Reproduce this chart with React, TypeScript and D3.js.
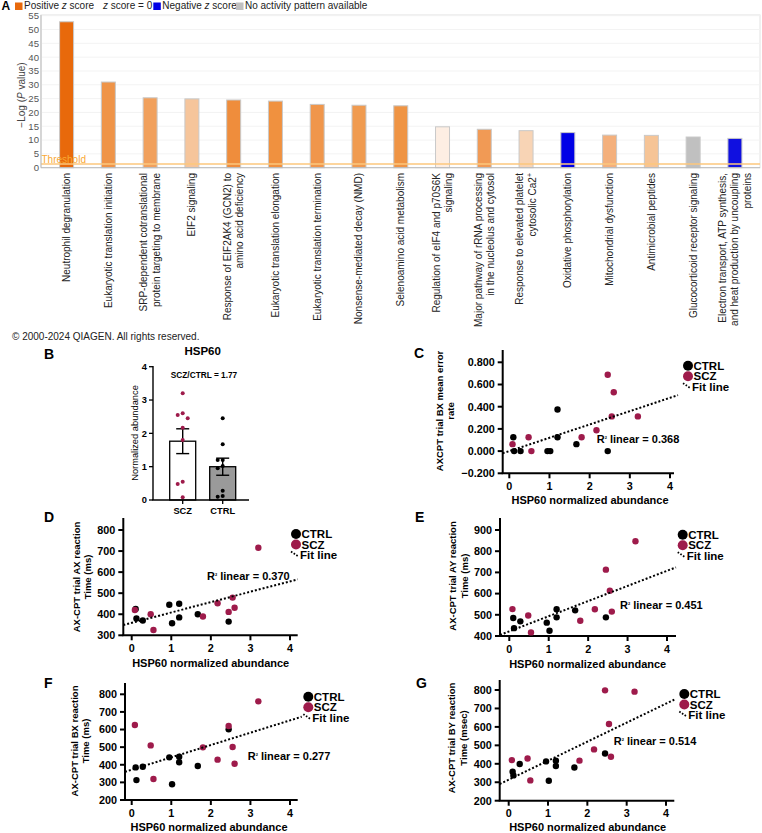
import React from 'react';
import * as d3 from 'd3';

const FONT = 'Liberation Sans, Arial, Helvetica, sans-serif';

// ---------- panel A: canonical pathways ----------
const pathways = [
  'Neutrophil degranulation',
  'Eukaryotic translation initiation',
  'SRP-dependent cotranslational|protein targeting to membrane',
  'EIF2 signaling',
  'Response of EIF2AK4 (GCN2) to|amino acid deficiency',
  'Eukaryotic translation elongation',
  'Eukaryotic translation termination',
  'Nonsense-mediated decay (NMD)',
  'Selenoamino acid metabolism',
  'Regulation of eIF4 and p70S6K|signaling',
  'Major pathway of rRNA processing|in the nucleolus and cytosol',
  'Response to elevated platelet|cytosolic Ca2^+',
  'Oxidative phosphorylation',
  'Mitochondrial dysfunction',
  'Antimicrobial peptides',
  'Glucocorticoid receptor signaling',
  'Electron transport, ATP synthesis,|and heat production by uncoupling|proteins',
];
const pathwayLogP = [52.8, 31.0, 25.3, 24.9, 24.5, 24.1, 22.9, 22.6, 22.4, 14.8, 13.9, 13.4, 12.7, 11.8, 11.7, 11.1, 10.6];
const pathwayColors = [
  '#e8690b', '#ef9448', '#f1a05c', '#f6c59b', '#ef8d3c', '#f0913f', '#f0964b', '#f09b50', '#ef9444',
  '#fdeee3', '#f19a55', '#f8d4b5', '#0000e6', '#f4b07c', '#f6c496', '#c0c0c0', '#1010e0',
];
const yTicksA = [0, 5, 10, 15, 20, 25, 30, 35, 40, 45, 50, 55];
const thresholdA = 1.3;
const legendLabelsA = ['Positive _z_ score', '_z_ score = 0', 'Negative _z_ score', 'No activity pattern available'];
const legendColorsA = ['#e8690b', '#ffffff', '#0000e6', '#c0c0c0'];

// ---------- panel B + scatter panels ----------
const groups = ['SCZ', 'CTRL'];
const hspScz = [0.08, 0.48, 0.55, 1.8, 2.17, 2.45, 2.55, 2.6, 3.2];
const hspCtrl = [0.1, 0.12, 0.28, 0.95, 1.02, 1.2, 1.2, 1.67, 2.45];

const bxErrorScz = [0.0625, 0.125, 0, 0.125, 0.1875, 0.6875, 0.3125, 0.53, 0.3125];
const bxErrorCtrl = [0.125, 0, 0, 0, 0, 0.375, 0.125, 0.0625, 0];
const axRtScz = [420, 400, 325, 389, 452, 411, 479, 431, 716];
const axRtCtrl = [425, 380, 370, 445, 357, 450, 385, 400, 365];
const ayRtScz = [527, 497, 417, 472, 526, 713, 614, 515, 847];
const ayRtCtrl = [485, 437, 469, 463, 425, 526, 488, 521, 488];
const bxRtScz = [626, 510, 319, 499, 429, 620, 501, 406, 760];
const bxRtCtrl = [385, 313, 389, 442, 289, 446, 414, 393, 601];
const byRtScz = [420, 429, 310, 417, 478, 798, 616, 438, 791];
const byRtCtrl = [357, 337, 399, 413, 308, 417, 388, 380, 456];

const fitIntercepts = [0, 359, 422, 372, 314];
const fitSlopes = [0.12, 49.3, 71.4, 70, 103];
const rSquared = ['0.368', '0.370', '0.451', '0.277', '0.514'];
const yLabels = [
  ['AXCPT trial BX mean error', 'rate'],
  ['AX-CPT trial AX reaction', 'Time (ms)'],
  ['AX-CPT trial AY reaction', 'Time (ms)'],
  ['AX-CPT trial BX reaction', 'Time (ms)'],
  ['AX-CPT trial BY reaction', 'Time (msec)'],
];
const yTicksList = [
  [-0.2, 0, 0.2, 0.4, 0.6, 0.8],
  [300, 400, 500, 600, 700, 800],
  [400, 500, 600, 700, 800, 900],
  [200, 300, 400, 500, 600, 700, 800],
  [200, 300, 400, 500, 600, 700, 800],
];
const xTicks = [0, 1, 2, 3, 4];
const legendNames = ['CTRL', 'SCZ', 'Fit line'];

const MAROON = '#9e1b4b';

// positions of the scatter panels on the page
const layouts = [
  { letter: 'C', lx: 414, ly: 358, xr: [509.3, 670], yr: [473.3, 362.3], axL: 502.7, axR: 674, axT: 350, fitEnd: 678, leg: [688, 365.7], ylab: [444.5, 411], xlab: [590, 504], rt: [596.7, 443] },
  { letter: 'D', lx: 44, ly: 522, xr: [131.7, 290], yr: [635.3, 530], axL: 123.3, axR: 297.7, axT: 518, fitEnd: 297.7, leg: [296, 534], ylab: [81.5, 577], xlab: [210.7, 667], rt: [207, 580] },
  { letter: 'E', lx: 415, ly: 522, xr: [509.3, 667], yr: [636, 530], axL: 500, axR: 676, axT: 518, fitEnd: 676, leg: [682.7, 534.7], ylab: [458, 576], xlab: [587.7, 668], rt: [620, 608.7] },
  { letter: 'F', lx: 44, ly: 688, xr: [131.7, 290], yr: [800, 694.3], axL: 125, axR: 297.7, axT: 683, fitEnd: 301.7, leg: [308.3, 696.7], ylab: [79.5, 741], xlab: [209, 831], rt: [247.7, 760] },
  { letter: 'G', lx: 416, ly: 688, xr: [508.7, 666], yr: [800.7, 690], axL: 499.7, axR: 674.3, axT: 680, fitEnd: 674.3, leg: [684.3, 694], ylab: [457, 738], xlab: [587.7, 830.7], rt: [613.7, 744.7] },
];
const scatterY = [
  [bxErrorCtrl, bxErrorScz],
  [axRtCtrl, axRtScz],
  [ayRtCtrl, ayRtScz],
  [bxRtCtrl, bxRtScz],
  [byRtCtrl, byRtScz],
];

function ItalicZ({ text }: { text: string }) {
  return (
    <>
      {text.split('_').map((p, i) => (
        <tspan key={i} fontStyle={i % 2 ? 'italic' : 'normal'}>{p}</tspan>
      ))}
    </>
  );
}

function PanelA() {
  const x = d3.scaleBand<string>().domain(pathways).range([41, 760.5]).paddingInner(0.665).paddingOuter(0.445);
  const y = d3.scaleLinear().domain([0, 55]).range([167.7, 15.7]);
  const swX = [15, 94, 153.3, 236];
  return (
    <g fontFamily={FONT}>
      <text x={1.5} y={10.2} fontSize={12} fontWeight="bold">A</text>
      {legendLabelsA.map((l, i) => (
        <g key={i}>
          <rect x={swX[i]} y={2.5} width={7.5} height={7.5} fill={legendColorsA[i]} />
          <text x={swX[i] + 9} y={9.3} fontSize={10} fill="#222"><ItalicZ text={l} /></text>
        </g>
      ))}
      <rect x={41} y={15} width={719} height={152.7} fill="none" stroke="#e2e2e2" />
      {yTicksA.map(t => (
        <g key={t}>
          {t > 0 && <line x1={41} x2={760} y1={y(t)} y2={y(t)} stroke="#f3f3f3" />}
          <text x={39} y={y(t) + 3.4} fontSize={9.6} textAnchor="end" fill="#555">{t}</text>
        </g>
      ))}
      <text transform="translate(25,95) rotate(-90)" fontSize={10} textAnchor="middle" fill="#444">
        −Log (<tspan fontStyle="italic">P</tspan> value)
      </text>
      {pathways.map((p, i) => (
        <rect key={p} x={x(p)} y={y(pathwayLogP[i])} width={x.bandwidth()} height={y(0) - y(pathwayLogP[i])}
          fill={pathwayColors[i]} stroke="#c9c9c9" strokeWidth={1} />
      ))}
      <line x1={41} x2={760} y1={y(thresholdA)} y2={y(thresholdA)} stroke="#fcc77c" strokeWidth={1.5} />
      <text x={41.5} y={163} fontSize={10} fill="#f9a934">Threshold</text>
      <line x1={41} x2={41} y1={15} y2={167.7} stroke="#bbb" />
      <line x1={41} x2={760} y1={167.7} y2={167.7} stroke="#bbb" />
      {pathways.map((p, i) => {
        const lines = p.split('|');
        const cx = (x(p) as number) + x.bandwidth() / 2;
        return lines.map((ln, j) => {
          const off = (j - (lines.length - 1) / 2) * 12.5;
          const parts = ln.split('^');
          return (
            <text key={i + '-' + j} transform={`translate(${cx + off + 3.5},173) rotate(-90)`} fontSize={10}
              textAnchor="end" fill="#222">
              {parts[0]}
              {parts[1] && <tspan fontSize={7} dy={-4}>{parts[1]}</tspan>}
            </text>
          );
        });
      })}
      <text x={12} y={340} fontSize={10} fill="#222">© 2000-2024 QIAGEN. All rights reserved.</text>
    </g>
  );
}

function jitter(vals: number[]) {
  const order = vals.map((v, i) => i).sort((a, b) => vals[b] - vals[a]);
  const offs = new Array(vals.length).fill(0);
  const placed: number[] = [];
  order.forEach(i => {
    const near = placed.filter(j => Math.abs(vals[j] - vals[i]) < 0.15).map(j => offs[j]);
    offs[i] = [0, -5, 5, -9, 9].find(o => !near.includes(o)) ?? 0;
    placed.push(i);
  });
  return offs;
}

function PanelB() {
  const x = d3.scaleBand<string>().domain(groups).range([162.7, 242.7]);
  const y = d3.scaleLinear().domain([0, 4]).range([500, 366.7]);
  const sets = [hspScz, hspCtrl];
  const bw = 26;
  return (
    <g fontFamily={FONT}>
      <text x={44} y={359} fontSize={14} fontWeight="bold">B</text>
      <text x={202.7} y={354.5} fontSize={11.5} fontWeight="bold" textAnchor="middle">HSP60</text>
      <text x={204} y={378} fontSize={8.3} fontWeight="bold" textAnchor="middle">SCZ/CTRL = 1.77</text>
      {groups.map((g, gi) => {
        const vals = sets[gi];
        const cx = (x(g) as number) + x.bandwidth() / 2;
        const m = d3.mean(vals) as number;
        const se = (d3.deviation(vals) as number) / Math.sqrt(vals.length);
        const offs = jitter(vals);
        return (
          <g key={g}>
            <rect x={cx - bw / 2} y={y(m)} width={bw} height={y(0) - y(m)} fill={gi ? '#9a9a9a' : '#fff'} stroke="#000" strokeWidth={1.3} />
            <line x1={cx} x2={cx} y1={y(m - se)} y2={y(m + se)} stroke="#000" strokeWidth={1.4} />
            <line x1={cx - 6.5} x2={cx + 6.5} y1={y(m - se)} y2={y(m - se)} stroke="#000" strokeWidth={1.4} />
            <line x1={cx - 6.5} x2={cx + 6.5} y1={y(m + se)} y2={y(m + se)} stroke="#000" strokeWidth={1.4} />
            {vals.map((v, i) => (
              <circle key={i} cx={cx + offs[i]} cy={y(v)} r={2} fill={gi ? '#000' : MAROON} />
            ))}
            <line x1={cx} x2={cx} y1={500} y2={504} stroke="#000" strokeWidth={1.3} />
            <text x={cx} y={513.5} fontSize={9.3} fontWeight="bold" textAnchor="middle">{g}</text>
          </g>
        );
      })}
      <line x1={153} x2={153} y1={366} y2={500} stroke="#000" strokeWidth={1.4} />
      <line x1={152.3} x2={249} y1={500} y2={500} stroke="#000" strokeWidth={1.4} />
      {[0, 1, 2, 3, 4].map(t => (
        <g key={t}>
          <line x1={149} x2={153} y1={y(t)} y2={y(t)} stroke="#000" strokeWidth={1.3} />
          <text x={147} y={y(t) + 3.3} fontSize={9.3} fontWeight="bold" textAnchor="end">{t}</text>
        </g>
      ))}
      <text transform="translate(138,433) rotate(-90)" fontSize={9.3} textAnchor="middle">Normalized abundance</text>
    </g>
  );
}

function Scatter({ k }: { k: number }) {
  const L = layouts[k];
  const ticks = yTicksList[k];
  const x = d3.scaleLinear().domain([0, 4]).range(L.xr);
  const y = d3.scaleLinear().domain([ticks[0], ticks[ticks.length - 1]]).range(L.yr);
  const fmt = k === 0 ? d3.format('.3f') : d3.format('d');
  const [ctrlY, sczY] = scatterY[k];
  const fx0 = x.invert(L.axL);
  const fx1 = x.invert(L.fitEnd);
  const fit = (v: number) => fitIntercepts[k] + fitSlopes[k] * v;
  const [lcx, lcy] = L.leg;
  const sw = 2;
  return (
    <g fontFamily={FONT} fontWeight="bold">
      <text x={L.lx} y={L.ly} fontSize={14}>{L.letter}</text>
      <line x1={L.axL} x2={L.axL} y1={L.axT} y2={L.yr[0]} stroke="#000" strokeWidth={sw} />
      <line x1={L.axL - 1} x2={L.axR} y1={L.yr[0]} y2={L.yr[0]} stroke="#000" strokeWidth={sw} />
      {ticks.map(t => (
        <g key={t}>
          <line x1={L.axL - 5} x2={L.axL} y1={y(t)} y2={y(t)} stroke="#000" strokeWidth={sw} />
          <text x={L.axL - 8} y={y(t) + 3.8} fontSize={10.8} textAnchor="end">{fmt(t)}</text>
        </g>
      ))}
      {xTicks.map(t => (
        <g key={t}>
          <line x1={x(t)} x2={x(t)} y1={L.yr[0]} y2={L.yr[0] + 5} stroke="#000" strokeWidth={sw} />
          <text x={x(t)} y={L.yr[0] + 16.5} fontSize={10.8} textAnchor="middle">{t}</text>
        </g>
      ))}
      <text transform={`translate(${L.ylab[0]},${L.ylab[1]}) rotate(-90)`} fontSize={9.5} textAnchor="middle">
        <tspan x={0} y={-2}>{yLabels[k][0]}</tspan>
        <tspan x={0} y={9.5}>{yLabels[k][1]}</tspan>
      </text>
      <text x={L.xlab[0]} y={L.xlab[1]} fontSize={11} textAnchor="middle">HSP60 normalized abundance</text>
      {hspCtrl.map((v, i) => (
        <circle key={'c' + i} cx={x(v)} cy={y(ctrlY[i])} r={3.2} fill="#000" />
      ))}
      {hspScz.map((v, i) => (
        <circle key={'s' + i} cx={x(v)} cy={y(sczY[i])} r={3.2} fill={MAROON} />
      ))}
      <line x1={x(fx0)} y1={y(fit(fx0))} x2={x(fx1)} y2={y(fit(fx1))} stroke="#000" strokeWidth={2} strokeDasharray="2 2" />
      <text x={L.rt[0]} y={L.rt[1]} fontSize={11}>
        R<tspan fontSize={4} dy={-4}>2</tspan><tspan dy={4}> linear = {rSquared[k]}</tspan>
      </text>
      <circle cx={lcx} cy={lcy} r={5} fill="#000" />
      <circle cx={lcx} cy={lcy + 10.5} r={5} fill={MAROON} />
      <line x1={lcx - 5} y1={lcy + 17.5} x2={lcx + 2.5} y2={lcy + 22.5} stroke="#000" strokeWidth={1.8} strokeDasharray="1.6 1.6" />
      {legendNames.map((n, i) => (
        <text key={n} x={lcx + (i === 2 ? 4 : 5.5)} y={lcy + i * 10.5 + 4} fontSize={11.5}>{n}</text>
      ))}
    </g>
  );
}

export default function App() {
  return (
    <svg width={762} height={833} style={{ position: 'absolute', left: 0, top: 0, background: '#fff' }}>
      <rect width={762} height={833} fill="#fff" />
      <PanelA />
      <PanelB />
      {layouts.map((l, k) => <Scatter key={l.letter} k={k} />)}
    </svg>
  );
}
